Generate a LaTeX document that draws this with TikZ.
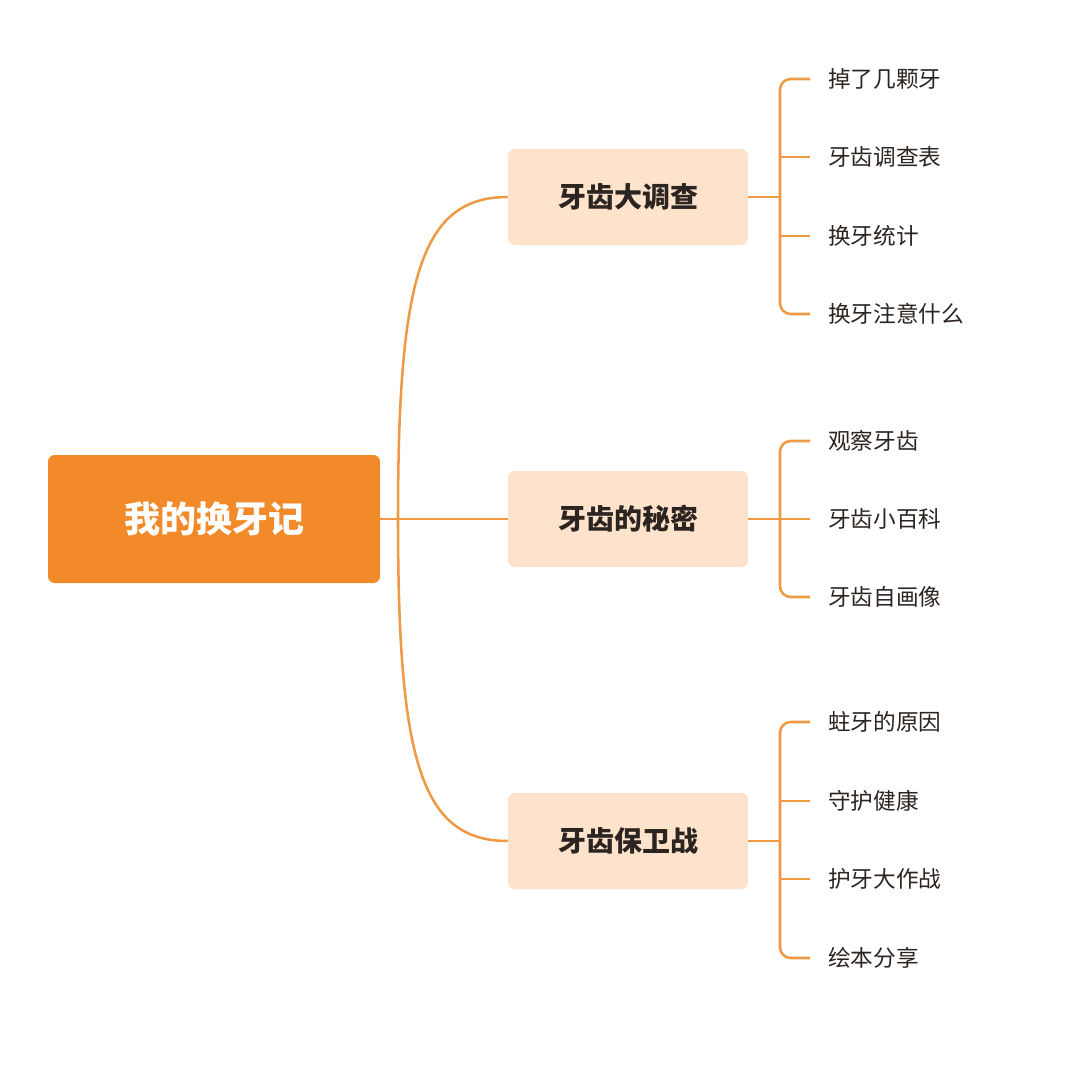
\documentclass[tikz,border=0pt]{standalone}
\usepackage{fontspec}
\setmainfont{Noto Sans CJK SC}
\usetikzlibrary{positioning}
\definecolor{rootorange}{HTML}{F28A2A}
\definecolor{peach}{HTML}{FDE3CC}
\definecolor{linkorange}{HTML}{EE9A45}
\definecolor{inkdark}{HTML}{2B2420}
\begin{document}
\begin{tikzpicture}[x=0.75pt,y=-0.75pt,
	rootbox/.style={fill=rootorange, rounded corners=5pt, minimum width=249pt, minimum height=96pt, text=white, font=\fontsize{27}{30}\selectfont\bfseries},
	topicbox/.style={fill=peach, rounded corners=5pt, minimum width=180pt, minimum height=72pt, text=inkdark, font=\fontsize{21}{24}\selectfont\bfseries},
	leaf/.style={anchor=west, text=inkdark, font=\fontsize{17}{20}\selectfont, inner sep=0pt},
	link/.style={draw=linkorange, line width=1.9pt, rounded corners=8pt}]
    \useasboundingbox (0,0) rectangle (1080,1077);
    % Place nodes
    \node [rootbox] (R) at (214,519) {我的换牙记};
    \node [topicbox] (A) at (628,197) {牙齿大调查};
    \node [topicbox] (B) at (628,519) {牙齿的秘密};
    \node [topicbox] (C) at (628,841) {牙齿保卫战};
    \node [leaf] (A1) at (828,79) {掉了几颗牙};
    \node [leaf] (A2) at (828,157) {牙齿调查表};
    \node [leaf] (A3) at (828,236) {换牙统计};
    \node [leaf] (A4) at (828,314) {换牙注意什么};
    \node [leaf] (B1) at (828,441) {观察牙齿};
    \node [leaf] (B2) at (828,519) {牙齿小百科};
    \node [leaf] (B3) at (828,597) {牙齿自画像};
    \node [leaf] (C1) at (828,722) {蛀牙的原因};
    \node [leaf] (C2) at (828,801) {守护健康};
    \node [leaf] (C3) at (828,879) {护牙大作战};
    \node [leaf] (C4) at (828,958) {绘本分享};
    % Draw edges
    \draw[link] (R.east) -- (B.west);
    \draw[link, rounded corners=0pt] (398,519) .. controls (398,280) and (420,197) .. (A.west);
    \draw[link, rounded corners=0pt] (398,519) .. controls (398,758) and (420,841) .. (C.west);
    \foreach \t/\a/\b in {A/A1/A4, B/B1/B3, C/C1/C4}{
        \draw[link] (\t.east) -- (780,0 |- \t.east);
        \draw[link] (810,0 |- \a.west) -- (780,0 |- \a.west) -- (780,0 |- \b.west) -- (810,0 |- \b.west);
    }
    \foreach \m in {A2, A3, B2, C2, C3}{
        \draw[link] (780,0 |- \m.west) -- (810,0 |- \m.west);
    }
\end{tikzpicture}
\end{document}
